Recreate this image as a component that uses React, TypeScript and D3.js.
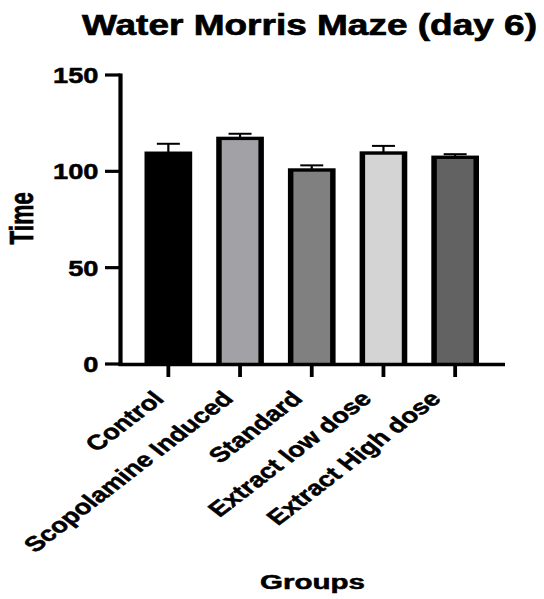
import React, { useRef, useEffect } from 'react';
import * as d3 from 'd3';

const groups = ['Control', 'Scopolamine Induced', 'Standard', 'Extract low dose', 'Extract High dose'];
const means = [109.4, 117.1, 100.7, 109.5, 107.3];
const sems = [4.9, 2.4, 2.4, 3.7, 1.6];
const fills = ['#000000', '#a2a2a6', '#808080', '#d4d4d4', '#626262'];
const yTicks = [0, 50, 100, 150];

const W = 544;
const H = 599;
const FONT = 'Liberation Sans, Arial, Helvetica, sans-serif';

// bold text, a bit heavier than the installed font
const boldText = (sel, size) =>
  sel
    .style('font-family', FONT)
    .style('font-weight', 'bold')
    .style('font-size', `${size}px`)
    .attr('stroke', '#000')
    .attr('stroke-width', 0.5);

const draw = (svgRef) => {
  const svg = d3.select(svgRef.current);
  svg.selectAll('*').remove();

  const axisX = 120.5;
  const axisY = 364.5;
  const xEnd = 505;

  const y = d3.scaleLinear().domain([0, 150]).range([364, 75]);
  const x = d3
    .scaleBand()
    .domain(groups)
    .range([132.5, 491])
    .paddingInner(0.335)
    .paddingOuter(0.1675);

  const borderH = 5.5; // left/right border of bars
  const borderV = 3.4; // top border of bars

  // bars
  const bar = svg
    .append('g')
    .selectAll('g')
    .data(groups)
    .enter()
    .append('g');

  bar
    .append('rect')
    .attr('x', (d) => x(d))
    .attr('y', (d, i) => y(means[i]) - borderV / 2)
    .attr('width', x.bandwidth())
    .attr('height', (d, i) => axisY - (y(means[i]) - borderV / 2))
    .attr('fill', '#000');

  bar
    .append('rect')
    .attr('x', (d) => x(d) + borderH)
    .attr('y', (d, i) => y(means[i]) + borderV / 2)
    .attr('width', x.bandwidth() - 2 * borderH)
    .attr('height', (d, i) => Math.max(0, axisY - (y(means[i]) + borderV / 2)))
    .attr('fill', (d, i) => fills[i]);

  // error bars
  const capW = 23;
  bar
    .append('line')
    .attr('x1', (d) => x(d) + x.bandwidth() / 2)
    .attr('x2', (d) => x(d) + x.bandwidth() / 2)
    .attr('y1', (d, i) => y(means[i]))
    .attr('y2', (d, i) => y(means[i] + sems[i]))
    .attr('stroke', '#000')
    .attr('stroke-width', 2.2);

  bar
    .append('line')
    .attr('x1', (d) => x(d) + x.bandwidth() / 2 - capW / 2)
    .attr('x2', (d) => x(d) + x.bandwidth() / 2 + capW / 2)
    .attr('y1', (d, i) => y(means[i] + sems[i]))
    .attr('y2', (d, i) => y(means[i] + sems[i]))
    .attr('stroke', '#000')
    .attr('stroke-width', 2);

  // y axis
  const yAxis = svg.append('g');
  yAxis
    .append('line')
    .attr('x1', axisX)
    .attr('x2', axisX)
    .attr('y1', y(150) - 1.6)
    .attr('y2', axisY + 1.6)
    .attr('stroke', '#000')
    .attr('stroke-width', 4.2);

  yAxis
    .selectAll('line.tick')
    .data(yTicks)
    .enter()
    .append('line')
    .attr('class', 'tick')
    .attr('x1', 105)
    .attr('x2', axisX)
    .attr('y1', (d) => y(d))
    .attr('y2', (d) => y(d))
    .attr('stroke', '#000')
    .attr('stroke-width', 3.2);

  yAxis
    .selectAll('text')
    .data(yTicks)
    .enter()
    .append('text')
    .attr('transform', (d) => `translate(98.5,${y(d) + 8}) scale(1.24,1)`)
    .attr('text-anchor', 'end')
    .call(boldText, 22)
    .text((d) => d);

  // x axis
  const xAxis = svg.append('g');
  xAxis
    .append('line')
    .attr('x1', axisX - 2)
    .attr('x2', xEnd)
    .attr('y1', axisY)
    .attr('y2', axisY)
    .attr('stroke', '#000')
    .attr('stroke-width', 3.3);

  xAxis
    .selectAll('line.tick')
    .data(groups)
    .enter()
    .append('line')
    .attr('class', 'tick')
    .attr('x1', (d) => x(d) + x.bandwidth() / 2)
    .attr('x2', (d) => x(d) + x.bandwidth() / 2)
    .attr('y1', axisY)
    .attr('y2', 377)
    .attr('stroke', '#000')
    .attr('stroke-width', 3.8);

  xAxis
    .selectAll('text')
    .data(groups)
    .enter()
    .append('text')
    .attr(
      'transform',
      (d, i) =>
        `translate(${x(d) + x.bandwidth() / 2 - 3 - 2.5 * i},400) scale(1.3,1) rotate(-45)`
    )
    .attr('text-anchor', 'end')
    .call(boldText, 21)
    .text((d) => d);

  // titles
  svg
    .append('text')
    .attr('x', 82)
    .attr('y', 35)
    .attr('textLength', 455)
    .attr('lengthAdjust', 'spacingAndGlyphs')
    .call(boldText, 30)
    .attr('stroke-width', 0.7)
    .text('Water Morris Maze (day 6)');

  svg
    .append('text')
    .attr('x', 260)
    .attr('y', 589)
    .attr('textLength', 105)
    .attr('lengthAdjust', 'spacingAndGlyphs')
    .call(boldText, 20)
    .text('Groups');

  svg
    .append('text')
    .attr('transform', 'translate(33,218.3) scale(1.45,1) rotate(-90)')
    .attr('text-anchor', 'middle')
    .call(boldText, 22.7)
    .text('Time');

  return svg.node();
};

export const App = () => {
  const d3Container = useRef(null);

  useEffect(() => {
    if (d3Container.current) draw(d3Container);
  }, []);

  return (
    <svg
      ref={d3Container}
      width={W}
      height={H}
      style={{ position: 'absolute', left: 0, top: 0, background: '#fff' }}
    />
  );
};

export default App;
